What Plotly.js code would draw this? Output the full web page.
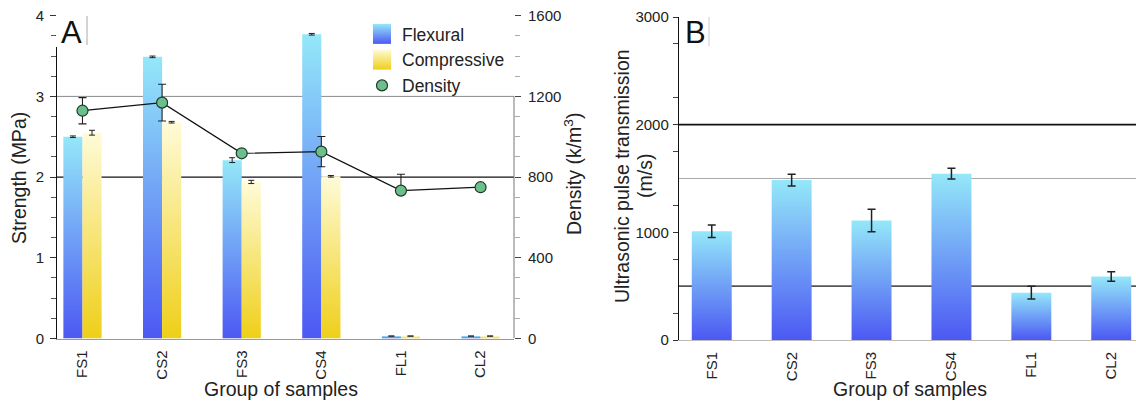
<!DOCTYPE html>
<html>
<head>
<meta charset="utf-8">
<script src="https://cdn.plot.ly/plotly-3.0.1.min.js"></script>
<style>html,body{margin:0;padding:0;background:#fff;}#chart{width:1136px;height:406px;}</style>
</head>
<body>
<div id="chart"></div>
<script>
// ---- data ----
const categories = ["FS1", "CS2", "FS3", "CS4", "FL1", "CL2"];
const flexural = [2.50, 3.49, 2.21, 3.77, 0.03, 0.03];
const flexuralErr = [0.01, 0.01, 0.03, 0.01, 0, 0];
const compressive = [2.55, 2.68, 1.94, 2.01, 0.03, 0.03];
const compressiveErr = [0.03, 0.01, 0.02, 0.01, 0, 0];
const density = [1129, 1169, 918, 926, 733, 750];
const densityErrPlus = [65, 91, 0, 75, 81, 0];
const densityErrMinus = [65, 91, 0, 75, 0, 0];
const ultrasonic = [1010, 1485, 1110, 1545, 440, 590];
const ultrasonicErr = [58, 55, 105, 50, 60, 45];

const W = 1136, H = 406;
const px = v => v / W;
const py = v => 1 - v / H;
const FONT = "Liberation Sans, Arial, sans-serif";

const traces = [
  {type: "bar", name: "Flexural", x: categories, y: flexural, xaxis: "x", yaxis: "y",
   marker: {color: "#6a86f2", line: {width: 0}},
   error_y: {type: "data", array: flexuralErr, color: "#222", thickness: 1, width: 3}},
  {type: "bar", name: "Compressive", x: categories, y: compressive, xaxis: "x", yaxis: "y",
   marker: {color: "#f5e070", line: {width: 0}},
   error_y: {type: "data", array: compressiveErr, color: "#222", thickness: 1, width: 3}},
  {type: "scatter", mode: "lines+markers", name: "Density", x: categories, y: density, xaxis: "x", yaxis: "y2",
   line: {color: "#111", width: 1.2},
   marker: {size: 11, color: "#6cbf8c", line: {color: "#1d3b29", width: 1.2}},
   error_y: {type: "data", symmetric: false, array: densityErrPlus, arrayminus: densityErrMinus, color: "#222", thickness: 1.1, width: 4}},
  {type: "bar", name: "Ultrasonic", x: categories, y: ultrasonic, xaxis: "x3", yaxis: "y3", width: 0.5,
   showlegend: false,
   marker: {color: "#6a86f2", line: {width: 0}},
   error_y: {type: "data", array: ultrasonicErr, color: "#222", thickness: 1.5, width: 4}}
];

const tickFont = {family: FONT, size: 15, color: "#222"};
const titleFont = {family: FONT, size: 19.5, color: "#222"};

const layout = {
  width: W, height: H,
  margin: {l: 0, r: 0, t: 0, b: 0, pad: 0},
  paper_bgcolor: "#fff", plot_bgcolor: "rgba(0,0,0,0)",
  barmode: "group", bargap: 0.52, bargroupgap: 0,
  font: {family: FONT, color: "#222"},
  showlegend: true,
  legend: {x: px(362), y: py(16), xanchor: "left", yanchor: "top", bgcolor: "rgba(0,0,0,0)",
           font: {family: FONT, size: 17.5, color: "#222"}, tracegroupgap: 0, itemwidth: 30},
  xaxis: {domain: [px(57), px(514)], range: [-0.32, 5.42], anchor: "y", type: "category",
          tickangle: -90, tickfont: tickFont, showline: true, linecolor: "#999", linewidth: 1,
          ticks: "", showgrid: false, zeroline: false, ticklabelstandoff: 5, fixedrange: true},
  yaxis: {domain: [1 - 338.5 / H, 1 - 15.7 / H], range: [0, 4], dtick: 1, anchor: "x",
          showline: true, linecolor: "#111", linewidth: 1, ticks: "outside", ticklen: 6, tickcolor: "#333",
          minor: {dtick: 0.25, ticks: "outside", ticklen: 5, tickcolor: "#555"},
          tickfont: tickFont, showgrid: false, zeroline: false, ticklabelstandoff: 3},
  yaxis2: {overlaying: "y", side: "right", anchor: "x", range: [0, 1600], dtick: 400,
           showline: false, ticks: "outside", ticklen: 6, tickcolor: "#444",
           minor: {dtick: 100, ticks: "outside", ticklen: 5, tickcolor: "#aaa"},
           tickfont: tickFont, showgrid: false, zeroline: false, ticklabelstandoff: 4},
  xaxis3: {domain: [px(679), 1], range: [-0.41, 5.31], anchor: "y3", type: "category",
           tickangle: -90, tickfont: tickFont, showline: true, linecolor: "#bbb", linewidth: 1,
           ticks: "", showgrid: false, zeroline: false, ticklabelstandoff: 5},
  yaxis3: {domain: [1 - 340 / H, 1 - 17 / H], range: [0, 3000], dtick: 1000, anchor: "x3",
           showline: true, linecolor: "#111", linewidth: 1.2, ticks: "outside", ticklen: 5, tickcolor: "#333",
           minor: {tick0: 250, dtick: 500, ticks: "outside", ticklen: 5, tickcolor: "#444"},
           tickfont: tickFont, showgrid: false, zeroline: false, ticklabelstandoff: 1},
  shapes: [
    {type: "line", xref: "x domain", yref: "y", x0: 0, x1: 1, y0: 3, y1: 3, line: {color: "#8a8a8a", width: 1}, layer: "below"},
    {type: "line", xref: "x domain", yref: "y", x0: 0, x1: 1, y0: 2, y1: 2, line: {color: "#111", width: 1.2}, layer: "below"},
    {type: "line", xref: "x domain", yref: "y2", x0: 1, x1: 1, y0: 0, y1: 1200, line: {color: "#777", width: 1}, layer: "above"},
    {type: "rect", xref: "paper", yref: "paper", x0: px(56), x1: px(87), y0: py(47), y1: py(13), fillcolor: "#fff", line: {width: 0}, layer: "above"},
    {type: "line", xref: "paper", yref: "paper", x0: px(87), x1: px(87), y0: py(45), y1: py(16), line: {color: "#aaa", width: 1}, layer: "above"},
    {type: "line", xref: "paper", yref: "paper", x0: px(709), x1: px(709), y0: py(46), y1: py(17), line: {color: "#ccc", width: 1}, layer: "above"},
    {type: "line", xref: "x3 domain", yref: "y3", x0: 0, x1: 1, y0: 2000, y1: 2000, line: {color: "#111", width: 1.6}, layer: "below"},
    {type: "line", xref: "x3 domain", yref: "y3", x0: 0, x1: 1, y0: 1500, y1: 1500, line: {color: "#aaa", width: 1}, layer: "below"},
    {type: "line", xref: "x3 domain", yref: "y3", x0: 0, x1: 1, y0: 500, y1: 500, line: {color: "#555", width: 1.6}, layer: "below"}
  ],
  annotations: [
    {text: "A", xref: "paper", yref: "paper", x: px(71), y: py(32), xanchor: "center", yanchor: "middle", showarrow: false, font: {family: FONT, size: 31, color: "#111"}},
    {text: "B", xref: "paper", yref: "paper", x: px(695), y: py(32), xanchor: "center", yanchor: "middle", showarrow: false, font: {family: FONT, size: 31, color: "#111"}},
    {text: "Strength (MPa)", xref: "paper", yref: "paper", x: px(19), y: py(178), xanchor: "center", yanchor: "middle", textangle: -90, showarrow: false, font: titleFont},
    {text: "Density (k/m<sup>3</sup>)", xref: "paper", yref: "paper", x: px(573), y: py(174), xanchor: "center", yanchor: "middle", textangle: -90, showarrow: false, font: titleFont},
    {text: "Group of samples", xref: "paper", yref: "paper", x: px(281), y: py(389), xanchor: "center", yanchor: "middle", showarrow: false, font: titleFont},
    {text: "Ultrasonic pulse transmission", xref: "paper", yref: "paper", x: px(622), y: py(176), xanchor: "center", yanchor: "middle", textangle: -90, showarrow: false, font: titleFont},
    {text: "(m/s)", xref: "paper", yref: "paper", x: px(645), y: py(176), xanchor: "center", yanchor: "middle", textangle: -90, showarrow: false, font: titleFont},
    {text: "Group of samples", xref: "paper", yref: "paper", x: px(910), y: py(389), xanchor: "center", yanchor: "middle", showarrow: false, font: titleFont}
  ]
};

const gradients = {
  Flexural: ["#94e8f9", "#4c58f3"],
  Compressive: ["#fffbd8", "#efcf18"],
  Ultrasonic: ["#94e8f9", "#4c58f3"]
};

Plotly.newPlot("chart", traces, layout, {staticPlot: true, displayModeBar: false}).then(gd => {
  const svg = gd.querySelector("svg.main-svg");
  const NS = "http://www.w3.org/2000/svg";
  let defs = svg.querySelector("defs");
  if (!defs) { defs = document.createElementNS(NS, "defs"); svg.insertBefore(defs, svg.firstChild); }
  Object.keys(gradients).forEach(name => {
    const lg = document.createElementNS(NS, "linearGradient");
    lg.setAttribute("id", "grad-" + name);
    lg.setAttribute("x1", "0"); lg.setAttribute("y1", "0");
    lg.setAttribute("x2", "0"); lg.setAttribute("y2", "1");
    [[0, gradients[name][0]], [1, gradients[name][1]]].forEach(([o, c]) => {
      const s = document.createElementNS(NS, "stop");
      s.setAttribute("offset", o); s.setAttribute("stop-color", c);
      lg.appendChild(s);
    });
    defs.appendChild(lg);
  });
  const nameOf = el => {
    const d = el.__data__;
    if (!d) return null;
    if (Array.isArray(d)) {
      if (d[0] && d[0].trace) return d[0].trace.name;
      if (d[0] && d[0][0] && d[0][0].trace) return d[0][0].trace.name;
    }
    if (d.trace) return d.trace.name;
    return null;
  };
  gd.querySelectorAll("g.trace.bars").forEach(g => {
    const n = nameOf(g);
    if (n && gradients[n]) g.querySelectorAll("path").forEach(p => { p.style.fill = "url(#grad-" + n + ")"; });
  });
  gd.querySelectorAll(".legend g.traces").forEach(g => {
    const n = nameOf(g);
    if (n && gradients[n]) {
      g.querySelectorAll(".legendpoints path").forEach(p => {
        p.setAttribute("d", "M9,10H-9V-10H9Z");
        p.style.fill = "url(#grad-" + n + ")";
        p.style.stroke = "none";
      });
    }
    if (n === "Density") {
      g.querySelectorAll(".legendlines path").forEach(p => { p.style.display = "none"; });
      g.querySelectorAll(".legenderrorbars, .legendpoints .errorbars").forEach(p => { p.style.display = "none"; });
    }
  });
});
</script>
</body>
</html>
